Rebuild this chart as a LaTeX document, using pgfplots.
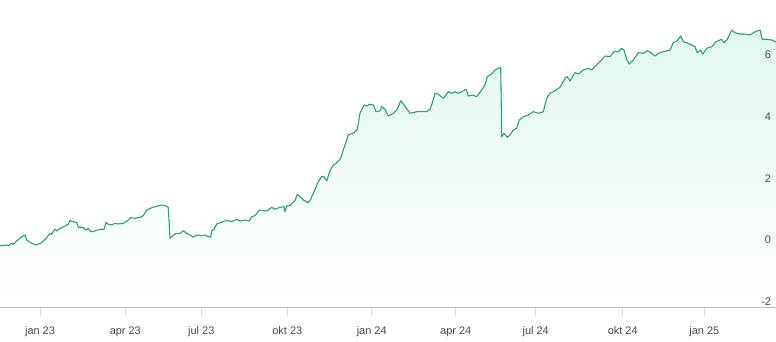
\documentclass[border=0pt]{standalone}
\usepackage{pgfplots}
\pgfplotsset{compat=1.18}
\usepackage{pgfplotstable}
\usepgfplotslibrary{fillbetween}
\usepackage{fontspec}
\setmainfont{Liberation Sans}
\definecolor{linecol}{RGB}{38,163,123}
\definecolor{fillcol}{RGB}{226,247,240}
\definecolor{labcol}{RGB}{75,75,75}
\definecolor{axcol}{RGB}{218,218,218}
\pgfplotstableread{
x y
0 -0.185
6.7 -0.162
8.3 -0.185
11.7 -0.107
13.3 -0.139
16.7 -0.032
21.7 0.107
25 0.162
26.7 0.0
31.7 -0.107
36 -0.162
41.7 -0.088
46.7 0.075
50 0.217
51.7 0.185
55 0.357
56.7 0.292
60 0.379
65 0.454
68.3 0.509
70 0.639
71.7 0.593
76.7 0.574
78.3 0.412
82.7 0.412
86 0.324
88.3 0.379
90.7 0.269
95 0.292
100 0.347
104 0.347
106 0.574
108.3 0.509
111.7 0.486
115 0.541
117.3 0.519
123.3 0.541
128.3 0.648
130.7 0.723
135 0.703
140 0.736
143.3 0.788
146.7 0.972
151.7 1.047
155 1.079
158.3 1.102
161.7 1.135
165 1.118
166.7 1.086
168.3 1.053
170 0.055
173.3 0.162
176.7 0.217
180 0.211
183.3 0.301
186.7 0.217
190 0.162
193.3 0.088
195 0.130
198.3 0.162
201.7 0.139
205 0.162
208.3 0.107
210.7 0.088
211.7 0.301
214 0.347
216.7 0.519
220 0.561
225 0.616
228.3 0.626
231.7 0.593
236.7 0.671
240 0.616
245 0.648
249.3 0.616
251.7 0.755
255 0.788
259.3 0.972
263.3 0.950
267.3 0.940
271.7 1.060
275 0.995
280 1.060
284 1.079
285 0.917
286.7 1.102
290 1.112
295 1.274
297.3 1.481
300 1.404
303.3 1.297
308.3 1.209
310.7 1.319
314 1.566
318.3 1.890
321.7 2.052
324 2.052
326.7 1.912
330 2.246
333.3 2.431
336 2.486
340.7 2.648
343.3 2.917
348.3 3.404
354 3.478
357.3 3.588
360 4.107
364 4.376
367.3 4.344
369.3 4.399
373.3 4.376
376 4.159
380 4.182
381.7 4.321
385 4.237
388.3 4.019
393.3 4.107
397.3 4.237
400.7 4.515
404 4.376
407.3 4.237
410 4.107
414 4.139
416.7 4.159
421.7 4.159
426.7 4.159
430 4.237
432.7 4.483
435 4.755
438.3 4.723
443.3 4.593
448.3 4.807
451.7 4.755
455 4.807
458.3 4.755
461.7 4.807
466 4.885
468.3 4.668
472.7 4.700
476.7 4.645
481.7 4.862
485 5.024
487.3 5.293
491.7 5.381
495 5.511
498.3 5.566
500.7 5.598
501.7 3.348
504 3.459
507.3 3.329
510 3.404
513.3 3.566
516.7 3.621
519.3 3.890
523.3 3.997
528.3 4.052
533.3 4.159
538.3 4.107
543.3 4.159
546.7 4.593
550 4.755
555 4.840
560 4.950
565 5.241
567.3 5.293
570 5.154
575 5.423
578.3 5.381
583.3 5.511
588.3 5.566
591.7 5.511
595 5.618
600 5.780
605 5.964
610 5.942
614 6.104
618.3 6.104
621.7 6.214
624 6.159
626.7 5.857
629.3 5.705
633.3 5.835
638.3 6.071
643.3 6.052
647.3 6.136
650.7 6.071
655 5.964
658.3 6.052
663.3 6.104
670 6.159
673.3 6.395
677.3 6.460
680.7 6.613
683.3 6.428
686.7 6.395
691.7 6.321
695 6.266
697.3 6.071
700.7 6.159
702.7 6.029
706.7 6.214
711.7 6.266
716 6.428
721.7 6.506
724 6.395
727.3 6.506
731.7 6.807
735 6.720
740 6.677
745 6.677
750 6.645
755 6.752
760 6.807
762.3 6.506
766.7 6.506
771.7 6.483
776 6.420
}\series
\begin{document}
\begin{tikzpicture}
\begin{axis}[
  at={(0,0)}, anchor=south west,
  scale only axis,
  width=776bp, height=307.5bp,
  xmin=0, xmax=776,
  ymin=-2.188, ymax=7.78,
  axis x line=bottom, axis y line=right,
  x axis line style={draw=axcol, line width=0.8bp, -},
  y axis line style={draw=none, -},
  xtick={40,125.3,201.3,287.3,371.7,455.7,535.7,622.7,704.3},
  xticklabels={jan 23,apr 23,jul 23,okt 23,jan 24,apr 24,jul 24,okt 24,jan 25},
  ytick={-2,0,2,4,6},
  yticklabels={-2,0,2,4,6},
  tick align=outside,
  x tick style={draw=axcol, line width=0.8bp},
  y tick style={draw=none},
  major tick length=9bp,
  tick label style={font=\fontsize{11}{13}\selectfont, text=labcol},
  xticklabel style={anchor=base, yshift=-18bp},
  yticklabel style={anchor=east, xshift=-10.5bp},
  clip=true,
]
\addplot[draw=none, name path=L] table[x=x,y=y] {\series};
\addplot[draw=none, name path=B] coordinates {(0,-2.188) (776,-2.188)};
\addplot[top color=fillcol, bottom color=white, draw=none] fill between[of=L and B];
\addplot[draw=linecol, line width=1.1bp, line join=round] table[x=x,y=y] {\series};
\end{axis}
\pgfresetboundingbox
\path (0,-34.5bp) rectangle (776bp,307.5bp);
\end{tikzpicture}
\end{document}
